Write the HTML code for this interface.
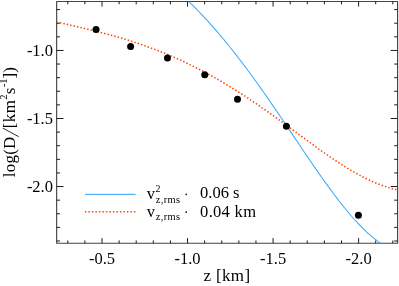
<!DOCTYPE html>
<html><head><meta charset="utf-8"><style>
html,body{margin:0;padding:0;background:#fff;}
svg{display:block;will-change:transform;opacity:0.999}
text{font-family:"Liberation Serif",serif;font-size:16.5px;fill:#000}
</style></head><body>
<svg width="399" height="286" viewBox="0 0 399 286">
<rect width="399" height="286" fill="#fff"/>
<rect x="56.65" y="1.5" width="340.95000000000005" height="241.75" fill="none" stroke="#444" stroke-width="1.15" stroke-linejoin="round"/>
<path d="M392.82 243.25v-2.8 M392.82 1.5v2.8 M375.71 243.25v-2.8 M375.71 1.5v2.8 M358.61 243.25v-5.1 M358.61 1.5v5.1 M341.50 243.25v-2.8 M341.50 1.5v2.8 M324.39 243.25v-2.8 M324.39 1.5v2.8 M307.28 243.25v-2.8 M307.28 1.5v2.8 M290.18 243.25v-2.8 M290.18 1.5v2.8 M273.07 243.25v-5.1 M273.07 1.5v5.1 M255.96 243.25v-2.8 M255.96 1.5v2.8 M238.86 243.25v-2.8 M238.86 1.5v2.8 M221.75 243.25v-2.8 M221.75 1.5v2.8 M204.64 243.25v-2.8 M204.64 1.5v2.8 M187.53 243.25v-5.1 M187.53 1.5v5.1 M170.43 243.25v-2.8 M170.43 1.5v2.8 M153.32 243.25v-2.8 M153.32 1.5v2.8 M136.21 243.25v-2.8 M136.21 1.5v2.8 M119.11 243.25v-2.8 M119.11 1.5v2.8 M102.00 243.25v-5.1 M102.00 1.5v5.1 M84.89 243.25v-2.8 M84.89 1.5v2.8 M67.79 243.25v-2.8 M67.79 1.5v2.8 M56.65 240.99h3.4 M397.6 240.99h-3.4 M56.65 227.38h3.4 M397.6 227.38h-3.4 M56.65 213.77h3.4 M397.6 213.77h-3.4 M56.65 200.16h3.4 M397.6 200.16h-3.4 M56.65 186.55h6.9 M397.6 186.55h-6.9 M56.65 172.94h3.4 M397.6 172.94h-3.4 M56.65 159.33h3.4 M397.6 159.33h-3.4 M56.65 145.72h3.4 M397.6 145.72h-3.4 M56.65 132.11h3.4 M397.6 132.11h-3.4 M56.65 118.50h6.9 M397.6 118.50h-6.9 M56.65 104.89h3.4 M397.6 104.89h-3.4 M56.65 91.28h3.4 M397.6 91.28h-3.4 M56.65 77.67h3.4 M397.6 77.67h-3.4 M56.65 64.06h3.4 M397.6 64.06h-3.4 M56.65 50.45h6.9 M397.6 50.45h-6.9 M56.65 36.84h3.4 M397.6 36.84h-3.4 M56.65 23.23h3.4 M397.6 23.23h-3.4 M56.65 9.62h3.4 M397.6 9.62h-3.4" stroke="#1a1a1a" stroke-width="1.0" fill="none"/>
<clipPath id="c"><rect x="56" y="1" width="342.2" height="242.6"/></clipPath><g clip-path="url(#c)"><path d="M188.7 1.51L190.7 3.46L192.7 5.43L194.7 7.42L196.7 9.45L198.7 11.50L200.7 13.57L202.7 15.68L204.7 17.81L206.7 19.97L208.7 22.16L210.7 24.38L212.7 26.62L214.7 28.89L216.7 31.19L218.7 33.51L220.7 35.86L222.7 38.24L224.7 40.65L226.7 43.08L228.7 45.54L230.7 48.03L232.7 50.54L234.7 53.07L236.7 55.63L238.7 58.22L240.7 60.83L242.7 63.46L244.7 66.12L246.7 68.79L248.7 71.49L250.7 74.21L252.7 76.96L254.7 79.72L256.7 82.50L258.7 85.30L260.7 88.12L262.7 90.95L264.7 93.80L266.7 96.67L268.7 99.55L270.7 102.44L272.7 105.35L274.7 108.27L276.7 111.20L278.7 114.13L280.7 117.08L282.7 120.04L284.7 123.00L286.7 125.96L288.7 128.94L290.7 131.91L292.7 134.88L294.7 137.86L296.7 140.83L298.7 143.81L300.7 146.77L302.7 149.74L304.7 152.70L306.7 155.64L308.7 158.58L310.7 161.51L312.7 164.43L314.7 167.33L316.7 170.22L318.7 173.09L320.7 175.94L322.7 178.77L324.7 181.58L326.7 184.36L328.7 187.12L330.7 189.85L332.7 192.56L334.7 195.23L336.7 197.86L338.7 200.46L340.7 203.03L342.7 205.55L344.7 208.04L346.7 210.48L348.7 212.88L350.7 215.22L352.7 217.52L354.7 219.77L356.7 221.96L358.7 224.10L360.7 226.18L362.7 228.20L364.7 230.15L366.7 232.04L368.7 233.87L370.7 235.62L372.7 237.30L374.7 238.90L376.7 240.43L378.7 241.88L380.7 243.24L382.0 244.08" fill="none" stroke="#36abff" stroke-width="1.05"/><path d="M56.5 21.91L58.5 22.38L60.5 22.84L62.5 23.31L64.5 23.77L66.5 24.24L68.5 24.70L70.5 25.16L72.5 25.63L74.5 26.09L76.5 26.56L78.5 27.03L80.5 27.50L82.5 27.97L84.5 28.45L86.5 28.93L88.5 29.41L90.5 29.90L92.5 30.39L94.5 30.89L96.5 31.39L98.5 31.90L100.5 32.41L102.5 32.93L104.5 33.45L106.5 33.98L108.5 34.52L110.5 35.06L112.5 35.62L114.5 36.17L116.5 36.74L118.5 37.32L120.5 37.90L122.5 38.49L124.5 39.09L126.5 39.70L128.5 40.32L130.5 40.94L132.5 41.58L134.5 42.23L136.5 42.88L138.5 43.55L140.5 44.23L142.5 44.92L144.5 45.62L146.5 46.32L148.5 47.04L150.5 47.78L152.5 48.52L154.5 49.27L156.5 50.04L158.5 50.81L160.5 51.60L162.5 52.40L164.5 53.22L166.5 54.04L168.5 54.88L170.5 55.73L172.5 56.59L174.5 57.46L176.5 58.35L178.5 59.24L180.5 60.16L182.5 61.08L184.5 62.02L186.5 62.96L188.5 63.93L190.5 64.90L192.5 65.89L194.5 66.89L196.5 67.90L198.5 68.92L200.5 69.96L202.5 71.01L204.5 72.07L206.5 73.15L208.5 74.24L210.5 75.34L212.5 76.45L214.5 77.58L216.5 78.71L218.5 79.86L220.5 81.03L222.5 82.20L224.5 83.39L226.5 84.59L228.5 85.80L230.5 87.02L232.5 88.25L234.5 89.50L236.5 90.75L238.5 92.02L240.5 93.30L242.5 94.59L244.5 95.89L246.5 97.20L248.5 98.52L250.5 99.85L252.5 101.20L254.5 102.55L256.5 103.91L258.5 105.28L260.5 106.66L262.5 108.05L264.5 109.45L266.5 110.85L268.5 112.27L270.5 113.69L272.5 115.12L274.5 116.55L276.5 118.00L278.5 119.44L280.5 120.90L282.5 122.36L284.5 123.82L286.5 125.28L288.5 126.75L290.5 128.23L292.5 129.70L294.5 131.18L296.5 132.66L298.5 134.13L300.5 135.61L302.5 137.09L304.5 138.56L306.5 140.03L308.5 141.50L310.5 142.97L312.5 144.43L314.5 145.88L316.5 147.33L318.5 148.77L320.5 150.20L322.5 151.62L324.5 153.03L326.5 154.43L328.5 155.82L330.5 157.19L332.5 158.55L334.5 159.90L336.5 161.23L338.5 162.54L340.5 163.84L342.5 165.12L344.5 166.38L346.5 167.62L348.5 168.84L350.5 170.04L352.5 171.21L354.5 172.36L356.5 173.49L358.5 174.59L360.5 175.67L362.5 176.72L364.5 177.74L366.5 178.73L368.5 179.70L370.5 180.63L372.5 181.53L374.5 182.40L376.5 183.24L378.5 184.04L380.5 184.81L382.5 185.55L384.5 186.24L386.5 186.90L388.5 187.53L390.5 188.11L392.5 188.66L394.5 189.16L396.5 189.62L398.5 190.05L399.0 190.15" fill="none" stroke="#ff4208" stroke-width="1.55" stroke-dasharray="1.45 2.05"/></g>
<g fill="#000"><circle cx="96.05" cy="29.45" r="3.5"/><circle cx="130.6" cy="46.6" r="3.5"/><circle cx="167.45" cy="57.9" r="3.5"/><circle cx="204.75" cy="74.8" r="3.5"/><circle cx="237.5" cy="99.25" r="3.5"/><circle cx="286.4" cy="126.25" r="3.5"/><circle cx="358.4" cy="215.3" r="3.5"/></g>
<text x="102.0" y="263.6" text-anchor="middle">-0.5</text><text x="187.5" y="263.6" text-anchor="middle">-1.0</text><text x="273.1" y="263.6" text-anchor="middle">-1.5</text><text x="358.6" y="263.6" text-anchor="middle">-2.0</text><text x="53.0" y="56.0" text-anchor="end">-1.0</text><text x="53.0" y="124.0" text-anchor="end">-1.5</text><text x="53.0" y="192.1" text-anchor="end">-2.0</text>
<text x="227" y="280.6" text-anchor="middle" style="font-size:17px;letter-spacing:0.35px">z [km]</text>
<g transform="translate(15.1 177.2) rotate(-90)" style="font-size:17px">
<text x="0" y="0" style="font-size:17px;letter-spacing:0.22px">log(D</text>
<path d="M40.5 3.6L49.1 -12.3" stroke="#222" stroke-width="0.95" fill="none"/>
<text x="49" y="0" style="font-size:17px;letter-spacing:0.4px">[km</text>
<text x="77.5" y="-7.8" style="font-size:10.6px">2</text>
<text x="83" y="0" style="font-size:17px">s</text>
<text x="90.0" y="-7.8" style="font-size:10.6px">-1</text>
<text x="98.8" y="0" style="font-size:17px">])</text>
</g>
<path d="M84.9 194.4H135.6" stroke="#52b7ff" stroke-width="1.1"/>
<path d="M84.9 211.8H135.8" stroke="#ff4208" stroke-width="1.55" stroke-dasharray="1.45 2.05"/>
<text x="146.8" y="198.6">v</text>
<text x="155.6" y="191.7" style="font-size:9.8px">2</text>
<text x="155.8" y="202.9" style="font-size:10.4px;letter-spacing:0.35px">z,rms</text>
<circle cx="186.2" cy="194.3" r="0.85" fill="#111"/>
<text x="200.1" y="198.2">0.06 s</text>
<text x="146.8" y="216.7">v</text>
<text x="155.8" y="220.1" style="font-size:10.4px;letter-spacing:0.35px">z,rms</text>
<circle cx="186.2" cy="212.2" r="0.85" fill="#111"/>
<text x="200.1" y="216.5" style="letter-spacing:0.3px">0.04 km</text>
</svg>
</body></html>
